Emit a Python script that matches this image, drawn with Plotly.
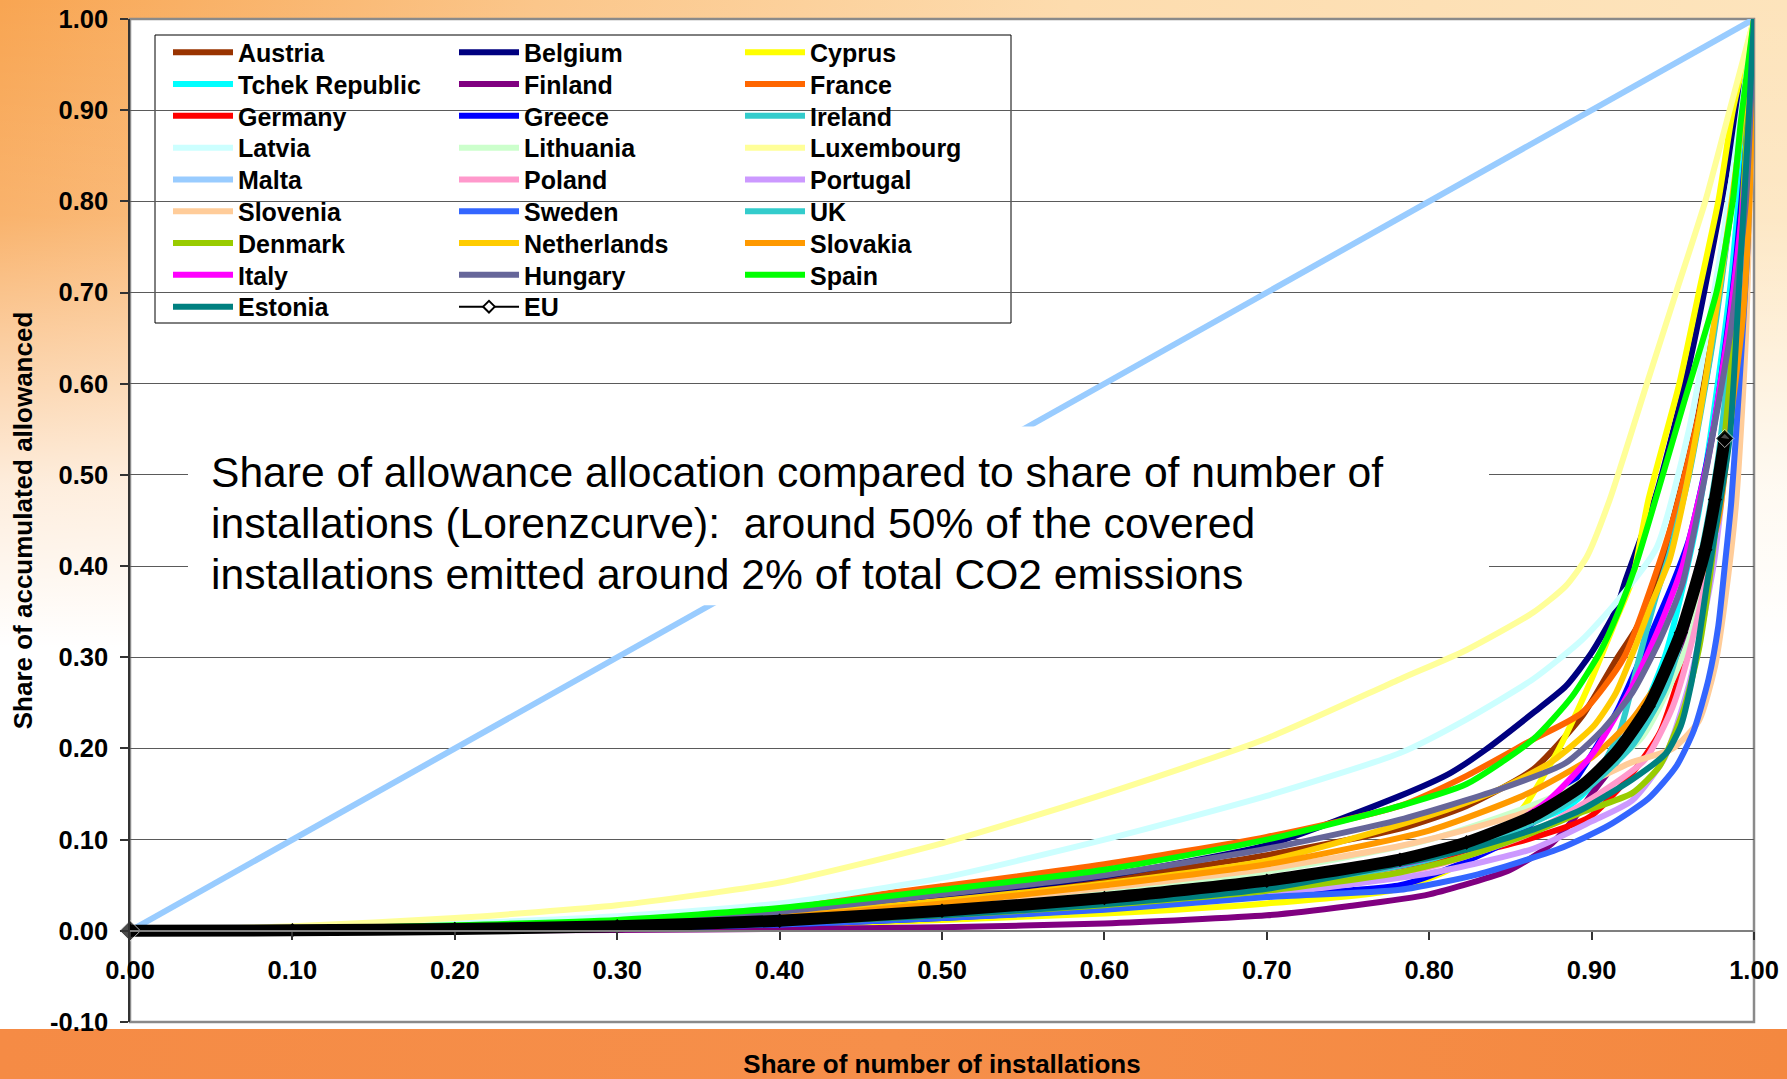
import base64
import plotly.graph_objects as go

# ---------------------------------------------------------------------------
# Lorenz curves: cumulative share of installations (x) vs. cumulative share
# of allocated allowances (y), per member state.
# ---------------------------------------------------------------------------
X_LOW = [0.0, 0.1, 0.2, 0.3, 0.4, 0.5, 0.6, 0.7]

austria_x = X_LOW + [0.782, 0.823, 0.864, 0.894, 0.915, 0.927, 0.937, 0.947, 0.965, 0.98, 0.992, 1.0]
austria_y = [0, 0.001, 0.003, 0.008, 0.018, 0.036, 0.056, 0.083,
             0.112, 0.137, 0.177, 0.235, 0.297, 0.33, 0.367, 0.43, 0.56, 0.72, 0.88, 1.0]

belgium_x = X_LOW + [0.782, 0.813, 0.835, 0.864, 0.884, 0.9, 0.915, 0.921, 0.94, 0.96, 0.98, 1.0]
belgium_y = [0, 0.001, 0.004, 0.009, 0.02, 0.038, 0.06, 0.094,
             0.148, 0.173, 0.199, 0.239, 0.268, 0.305, 0.352, 0.385, 0.48, 0.62, 0.8, 1.0]

cyprus_x = X_LOW + [0.776, 0.81, 0.84, 0.86, 0.88, 0.899, 0.915, 0.925, 0.935, 0.954, 0.966, 0.978, 0.987, 1.0]
cyprus_y = [0, 0.0003, 0.001, 0.003, 0.006, 0.012, 0.019, 0.03,
            0.044, 0.065, 0.1, 0.14, 0.2, 0.272, 0.341, 0.385, 0.473, 0.6, 0.7, 0.8, 0.9, 1.0]

tchek_x = X_LOW + [0.8, 0.886, 0.92, 0.945, 0.965, 0.985, 1.0]
tchek_y = [0, 0.0006, 0.002, 0.005, 0.011, 0.022, 0.035, 0.053,
           0.085, 0.137, 0.2, 0.3, 0.45, 0.7, 1.0]

finland_x = X_LOW + [0.75, 0.8, 0.85, 0.875, 0.89, 0.9, 0.93, 0.955, 0.975, 0.988, 0.996, 1.0]
finland_y = [0, 0.0001, 0.0004, 0.001, 0.002, 0.004, 0.008, 0.017,
             0.027, 0.04, 0.067, 0.095, 0.125, 0.15, 0.22, 0.3, 0.42, 0.6, 0.8, 1.0]

france_x = X_LOW + [0.782, 0.823, 0.864, 0.894, 0.92, 0.95, 0.97, 0.99, 1.0]
france_y = [0, 0.002, 0.006, 0.013, 0.027, 0.049, 0.073, 0.103,
            0.137, 0.17, 0.21, 0.239, 0.30, 0.45, 0.6, 0.85, 1.0]

germany_x = X_LOW + [0.8, 0.86, 0.899, 0.925, 0.942, 0.956, 0.966, 0.975, 0.985, 0.993, 1.0]
germany_y = [0, 0.0005, 0.002, 0.004, 0.009, 0.018, 0.03, 0.048,
             0.075, 0.1, 0.125, 0.173, 0.217, 0.29, 0.352, 0.45, 0.6, 0.78, 1.0]

greece_x = X_LOW + [0.782, 0.817, 0.85, 0.884, 0.915, 0.937, 0.95, 0.96, 0.975, 0.988, 0.996, 1.0]
greece_y = [0, 0.0003, 0.001, 0.003, 0.007, 0.014, 0.024, 0.038,
            0.05, 0.072, 0.1, 0.151, 0.239, 0.327, 0.381, 0.429, 0.55, 0.72, 0.88, 1.0]

ireland_x = X_LOW + [0.8, 0.86, 0.9, 0.917, 0.929, 0.939, 0.948, 0.96, 0.975, 0.99, 1.0]
ireland_y = [0, 0.0005, 0.002, 0.004, 0.009, 0.018, 0.03, 0.048,
             0.08, 0.12, 0.165, 0.217, 0.297, 0.363, 0.414, 0.5, 0.65, 0.85, 1.0]

latvia_x = X_LOW + [0.782, 0.823, 0.864, 0.894, 0.915, 0.94, 0.96, 0.98, 1.0]
latvia_y = [0, 0.003, 0.008, 0.016, 0.03, 0.058, 0.1, 0.148,
            0.195, 0.232, 0.276, 0.319, 0.36, 0.42, 0.55, 0.75, 1.0]

lithuania_x = X_LOW + [0.8, 0.88, 0.93, 0.96, 0.98, 0.995, 1.0]
lithuania_y = [0, 0.0008, 0.003, 0.007, 0.014, 0.027, 0.043, 0.065,
               0.1, 0.15, 0.21, 0.32, 0.5, 0.75, 1.0]

luxembourg_x = X_LOW + [0.782, 0.823, 0.864, 0.884, 0.897, 0.911, 0.934, 0.952, 0.97, 0.985, 1.0]
luxembourg_y = [0, 0.005, 0.014, 0.028, 0.053, 0.096, 0.15, 0.211,
                0.276, 0.308, 0.349, 0.378, 0.41, 0.472, 0.6, 0.7, 0.8, 0.9, 1.0]

malta_x = [0.0, 1.0]
malta_y = [0.0, 1.0]

poland_x = X_LOW + [0.8, 0.86, 0.9, 0.933, 0.95, 0.962, 0.972, 0.98, 0.99, 1.0]
poland_y = [0, 0.0005, 0.002, 0.004, 0.009, 0.017, 0.028, 0.044,
            0.07, 0.105, 0.145, 0.188, 0.246, 0.319, 0.4, 0.5, 0.7, 1.0]

portugal_x = X_LOW + [0.8, 0.864, 0.9, 0.925, 0.945, 0.96, 0.975, 0.99, 1.0]
portugal_y = [0, 0.0004, 0.0015, 0.004, 0.008, 0.015, 0.025, 0.04,
              0.063, 0.09, 0.12, 0.143, 0.19, 0.27, 0.4, 0.65, 1.0]

slovenia_x = X_LOW + [0.782, 0.823, 0.864, 0.894, 0.925, 0.95, 0.966, 0.976, 0.982, 0.989, 0.995, 1.0]
slovenia_y = [0, 0.001, 0.003, 0.007, 0.015, 0.029, 0.047, 0.068,
              0.093, 0.111, 0.133, 0.159, 0.185, 0.2, 0.23, 0.29, 0.36, 0.47, 0.65, 1.0]

sweden_x = X_LOW + [0.782, 0.83, 0.88, 0.91, 0.935, 0.952, 0.963, 0.972, 0.978, 0.982, 0.986, 0.991, 0.996, 1.0]
sweden_y = [0, 0.0003, 0.001, 0.003, 0.007, 0.014, 0.023, 0.037,
            0.045, 0.062, 0.09, 0.115, 0.145, 0.18, 0.22, 0.276, 0.334, 0.4, 0.47, 0.6, 0.75, 1.0]

uk_x = X_LOW + [0.8, 0.868, 0.894, 0.925, 0.946, 0.96, 0.968, 0.978, 0.988, 0.996, 1.0]
uk_y = [0, 0.0005, 0.002, 0.004, 0.009, 0.018, 0.03, 0.047,
        0.078, 0.122, 0.151, 0.203, 0.268, 0.352, 0.418, 0.52, 0.68, 0.85, 1.0]

denmark_x = X_LOW + [0.782, 0.823, 0.864, 0.894, 0.925, 0.942, 0.956, 0.966, 0.972, 0.976, 0.985, 0.993, 1.0]
denmark_y = [0, 0.0005, 0.002, 0.004, 0.009, 0.017, 0.028, 0.044,
             0.064, 0.082, 0.108, 0.13, 0.151, 0.181, 0.239, 0.308, 0.377, 0.436, 0.6, 0.8, 1.0]

netherlands_x = X_LOW + [0.76, 0.811, 0.843, 0.875, 0.901, 0.915, 0.927, 0.937, 0.948, 0.954, 0.965, 0.98, 0.99, 1.0]
netherlands_y = [0, 0.001, 0.003, 0.008, 0.017, 0.033, 0.052, 0.077,
                 0.105, 0.133, 0.155, 0.185, 0.224, 0.261, 0.312, 0.359, 0.407, 0.451, 0.55, 0.72, 0.85, 1.0]

slovakia_x = X_LOW + [0.8, 0.86, 0.9, 0.925, 0.942, 0.956, 0.966, 0.978, 0.987, 0.993, 0.997, 1.0]
slovakia_y = [0, 0.001, 0.003, 0.007, 0.015, 0.03, 0.05, 0.073,
              0.11, 0.15, 0.19, 0.232, 0.276, 0.327, 0.381, 0.45, 0.58, 0.67, 0.79, 1.0]

italy_x = X_LOW + [0.8, 0.85, 0.874, 0.901, 0.925, 0.942, 0.956, 0.962, 0.972, 0.985, 0.995, 1.0]
italy_y = [0, 0.0005, 0.002, 0.005, 0.01, 0.02, 0.032, 0.05,
           0.08, 0.115, 0.144, 0.195, 0.268, 0.334, 0.4, 0.443, 0.52, 0.67, 0.83, 1.0]

hungary_x = X_LOW + [0.782, 0.843, 0.884, 0.905, 0.925, 0.942, 0.956, 0.97, 0.985, 0.995, 1.0]
hungary_y = [0, 0.001, 0.004, 0.01, 0.021, 0.04, 0.061, 0.09,
             0.122, 0.155, 0.184, 0.217, 0.261, 0.319, 0.381, 0.5, 0.65, 0.8, 1.0]

spain_x = X_LOW + [0.782, 0.823, 0.864, 0.888, 0.905, 0.917, 0.927, 0.958, 0.977, 0.987, 0.992, 1.0]
spain_y = [0, 0.002, 0.006, 0.012, 0.025, 0.045, 0.067, 0.1,
           0.137, 0.161, 0.21, 0.257, 0.305, 0.352, 0.4, 0.586, 0.701, 0.801, 0.889, 1.0]

estonia_x = X_LOW + [0.823, 0.864, 0.894, 0.925, 0.946, 0.955, 0.961, 0.966, 0.971, 0.976, 0.985, 0.991, 0.996, 1.0]
estonia_y = [0, 0.0005, 0.002, 0.004, 0.009, 0.017, 0.029, 0.046,
             0.089, 0.111, 0.133, 0.166, 0.195, 0.225, 0.268, 0.319, 0.38, 0.436, 0.54, 0.713, 0.866, 1.0]

eu_x = X_LOW + [0.782, 0.823, 0.864, 0.894, 0.915, 0.935, 0.955, 0.97, 0.976, 0.982]
eu_y = [0, 0.0005, 0.002, 0.005, 0.011, 0.022, 0.036, 0.055,
        0.078, 0.097, 0.126, 0.159, 0.195, 0.246, 0.327, 0.418, 0.473, 0.54]

SERIES = [
    ("Austria", austria_x, austria_y, "#993300"),
    ("Belgium", belgium_x, belgium_y, "#000080"),
    ("Cyprus", cyprus_x, cyprus_y, "#FFFF00"),
    ("Tchek Republic", tchek_x, tchek_y, "#00FFFF"),
    ("Finland", finland_x, finland_y, "#800080"),
    ("France", france_x, france_y, "#FF6600"),
    ("Germany", germany_x, germany_y, "#FF0000"),
    ("Greece", greece_x, greece_y, "#0000FF"),
    ("Ireland", ireland_x, ireland_y, "#33CCCC"),
    ("Latvia", latvia_x, latvia_y, "#CCFFFF"),
    ("Lithuania", lithuania_x, lithuania_y, "#CCFFCC"),
    ("Luxembourg", luxembourg_x, luxembourg_y, "#FFFF99"),
    ("Malta", malta_x, malta_y, "#99CCFF"),
    ("Poland", poland_x, poland_y, "#FF99CC"),
    ("Portugal", portugal_x, portugal_y, "#CC99FF"),
    ("Slovenia", slovenia_x, slovenia_y, "#FFCC99"),
    ("Sweden", sweden_x, sweden_y, "#3366FF"),
    ("UK", uk_x, uk_y, "#33CCCC"),
    ("Denmark", denmark_x, denmark_y, "#99CC00"),
    ("Netherlands", netherlands_x, netherlands_y, "#FFCC00"),
    ("Slovakia", slovakia_x, slovakia_y, "#FF9900"),
    ("Italy", italy_x, italy_y, "#FF00FF"),
    ("Hungary", hungary_x, hungary_y, "#666699"),
    ("Spain", spain_x, spain_y, "#00FF00"),
    ("Estonia", estonia_x, estonia_y, "#008080"),
]

# axis ticks (y labels use a plain hyphen for the negative value)
Y_TICKS = [-0.1, 0.0, 0.1, 0.2, 0.3, 0.4, 0.5, 0.6, 0.7, 0.8, 0.9, 1.0]
Y_TICK_LABELS = ["-0.10", "0.00", "0.10", "0.20", "0.30", "0.40",
                 "0.50", "0.60", "0.70", "0.80", "0.90", "1.00"]

NOTE_LINES = [
    "Share of allowance allocation compared to share of number of",
    "installations (Lorenzcurve):  around 50% of the covered",
    "installations emitted around 2% of total CO2 emissions",
]
NOTE_Y = [0.5035, 0.4476, 0.3916]

FONT = "Liberation Sans, Arial, sans-serif"
W, H = 1787, 1079
ML, MR, MT, MB = 130, 33, 19, 57
PW, PH = W - ML - MR, H - MT - MB

# legend: 3 entries per row, one horizontal legend per row
ROW_Y0, ROW_DY = 52.5, 31.8
LEG_X0 = 168


def legend_id(row):
    return "legend" if row == 0 else f"legend{row + 1}"


fig = go.Figure()

for i, (name, xs, ys, col) in enumerate(SERIES):
    fig.add_trace(go.Scatter(
        x=xs, y=ys, name=name, mode="lines",
        line=dict(color=col, width=6, shape="spline", smoothing=0.6),
        legend=legend_id(i // 3),
    ))

# EU aggregate: legend entry with a thin line and open diamond
fig.add_trace(go.Scatter(
    x=eu_x, y=eu_y, name="EU", mode="lines+markers",
    line=dict(color="black", width=2),
    marker=dict(symbol="diamond", size=9, color="white",
                line=dict(color="black", width=2)),
    legend=legend_id(len(SERIES) // 3),
))
# EU aggregate drawn heavy on top of all member states
fig.add_trace(go.Scatter(
    x=eu_x, y=eu_y, name="EU", mode="lines+markers", showlegend=False,
    line=dict(color="black", width=12, shape="spline", smoothing=0.6),
    marker=dict(symbol="diamond", color="black",
                size=[16] + [0] * (len(eu_x) - 2) + [14]),
    cliponaxis=False,
))

# slide background: warm orange wash at the top fading to white, orange band at the bottom
svg = f"""<svg xmlns="http://www.w3.org/2000/svg" width="{W}" height="{H}" viewBox="0 0 {W} {H}" preserveAspectRatio="none">
<defs>
<linearGradient id="h" x1="0" y1="0" x2="1" y2="0">
<stop offset="0" stop-color="#F8A552"/>
<stop offset="0.3" stop-color="#FBC68A"/>
<stop offset="0.6" stop-color="#FDDCAE"/>
<stop offset="1" stop-color="#FDE4BC"/>
</linearGradient>
<linearGradient id="v" x1="0" y1="0" x2="0" y2="1">
<stop offset="0" stop-color="#FFFFFF" stop-opacity="0"/>
<stop offset="0.2" stop-color="#FFFFFF" stop-opacity="0.15"/>
<stop offset="0.45" stop-color="#FFFFFF" stop-opacity="0.8"/>
<stop offset="0.6" stop-color="#FFFFFF" stop-opacity="1"/>
</linearGradient>
<linearGradient id="b" x1="0" y1="0" x2="1" y2="0">
<stop offset="0" stop-color="#F58B45"/>
<stop offset="0.5" stop-color="#F68F4A"/>
<stop offset="1" stop-color="#F48840"/>
</linearGradient>
</defs>
<rect x="0" y="0" width="{W}" height="{H}" fill="url(#h)"/>
<rect x="0" y="0" width="{W}" height="{H}" fill="url(#v)"/>
<rect x="0" y="1029" width="{W}" height="{H - 1029}" fill="url(#b)"/>
</svg>"""
bg_src = "data:image/svg+xml;base64," + base64.b64encode(svg.encode()).decode()

fig.add_layout_image(
    source=bg_src, xref="paper", yref="paper",
    x=-ML / PW, y=1 + MT / PH, sizex=W / PW, sizey=H / PH,
    xanchor="left", yanchor="top", sizing="stretch", layer="below",
)

shapes = [
    # white plot area
    dict(type="rect", xref="paper", yref="paper", x0=0, x1=1, y0=0, y1=1,
         fillcolor="white", line=dict(width=0), layer="below"),
    # grey plot frame
    dict(type="rect", xref="paper", yref="paper", x0=0, x1=1, y0=0, y1=1,
         fillcolor="rgba(0,0,0,0)", line=dict(color="#8a8a8a", width=2.5), layer="between"),
    # legend box
    dict(type="rect", xref="paper", yref="paper",
         x0=(155 - ML) / PW, x1=(1011 - ML) / PW,
         y0=(H - MB - 323) / PH, y1=(H - MB - 35) / PH,
         fillcolor="white", line=dict(color="black", width=1), layer="between"),
    # note box
    dict(type="rect", xref="paper", yref="y",
         x0=(188 - ML) / PW, x1=(1489 - ML) / PW, y0=0.357, y1=0.553,
         fillcolor="white", line=dict(width=0), layer="above"),
]

annotations = [
    dict(text=t, xref="paper", yref="y", x=(209 - ML) / PW, y=yv,
         xanchor="left", yanchor="middle", showarrow=False,
         font=dict(family=FONT, size=42.6, color="black"))
    for t, yv in zip(NOTE_LINES, NOTE_Y)
]

legends = {}
n_rows = (len(SERIES) + 1 + 2) // 3
for r in range(n_rows):
    legends[legend_id(r)] = dict(
        x=(LEG_X0 - ML) / PW, xanchor="left",
        y=(H - MB - (ROW_Y0 + r * ROW_DY)) / PH, yanchor="middle",
        orientation="h", entrywidth=211, entrywidthmode="pixels",
        itemwidth=60, bgcolor="rgba(0,0,0,0)", borderwidth=0,
        font=dict(family=FONT, size=25, color="black", weight="bold"),
    )

tick_font = dict(family=FONT, size=25.5, color="black", weight="bold")
title_font = dict(family=FONT, size=26, color="black", weight="bold")

fig.update_layout(
    width=W, height=H, autosize=False,
    margin=dict(l=ML, r=MR, t=MT, b=MB, pad=0, autoexpand=False),
    paper_bgcolor="white", plot_bgcolor="white",
    shapes=shapes, annotations=annotations,
    xaxis=dict(
        range=[0, 1], tick0=0, dtick=0.1, tickformat=".2f",
        showgrid=False, zeroline=False, automargin=False,
        anchor="free", position=0.1 / 1.1,
        showline=True, linecolor="#7f7f7f", linewidth=2,
        ticks="outside", ticklen=8, tickcolor="#333333", tickwidth=1.5,
        ticklabelstandoff=9, tickfont=tick_font,
        title=dict(text="Share of number of installations", font=title_font, standoff=80),
    ),
    yaxis=dict(
        range=[-0.1, 1.0], tickmode="array", tickvals=Y_TICKS, ticktext=Y_TICK_LABELS,
        showgrid=True, gridcolor="#5a5a5a", gridwidth=1, zeroline=False,
        automargin=False,
        showline=True, linecolor="#333333", linewidth=1.5,
        ticks="outside", ticklen=8, tickcolor="#333333", tickwidth=1.5,
        ticklabelstandoff=7, tickfont=tick_font,
        title=dict(text="Share of accumulated allowanced", font=title_font, standoff=10),
    ),
    **legends,
)

fig.write_html("out.html")
